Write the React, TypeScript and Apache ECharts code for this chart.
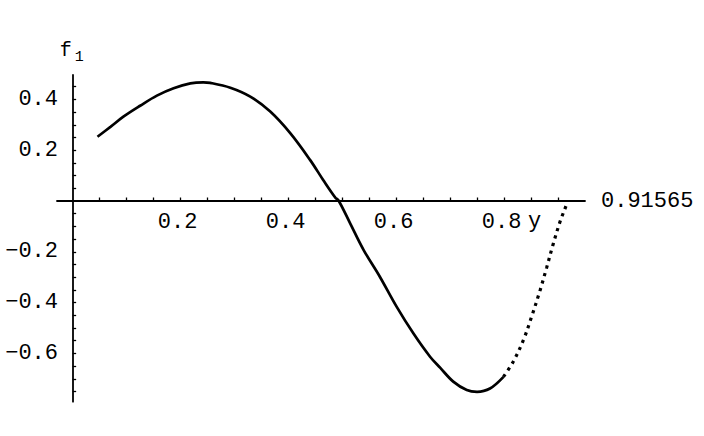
import React, { useEffect, useRef } from "react";
import * as echarts from "echarts";

// values
const X_VALUES = [
  0.046, 0.07, 0.094, 0.125, 0.156, 0.187, 0.218, 0.242, 0.255, 0.292, 0.329,
  0.366, 0.403, 0.44, 0.464, 0.486, 0.493, 0.514, 0.539, 0.569, 0.6, 0.631,
  0.662, 0.681, 0.705, 0.73, 0.749, 0.773, 0.798, 0.816, 0.835, 0.85, 0.866,
  0.878, 0.89, 0.903, 0.915, 0.91565,
];
const F_VALUES = [
  0.253, 0.292, 0.332, 0.375, 0.415, 0.444, 0.463, 0.467, 0.465, 0.446, 0.411,
  0.352, 0.267, 0.161, 0.083, 0.015, 0.0, -0.088, -0.193, -0.298, -0.416,
  -0.521, -0.613, -0.657, -0.711, -0.744, -0.751, -0.738, -0.692, -0.633,
  -0.547, -0.456, -0.35, -0.262, -0.17, -0.08, -0.012, 0.0,
];
const DOTTED_FROM = 0.798; // from here on the reference curve is drawn as dots

const X_TICKS = [0.05, 0.1, 0.15, 0.2, 0.25, 0.3, 0.35, 0.4, 0.45, 0.5, 0.55, 0.6, 0.65, 0.7, 0.75, 0.8, 0.85, 0.9];
const X_LABELS = [0.2, 0.4, 0.6, 0.8];
const Y_TICKS = [-0.75, -0.7, -0.65, -0.6, -0.55, -0.5, -0.45, -0.4, -0.35, -0.3, -0.25, -0.2, -0.15, -0.1, -0.05, 0.05, 0.1, 0.15, 0.2, 0.25, 0.3, 0.35, 0.4, 0.45];
const Y_LABELS = [-0.6, -0.4, -0.2, 0.2, 0.4];

const X_MIN = -0.029;
const X_MAX = 0.949;
const Y_MIN = -0.79;
const Y_MAX = 0.496;

const X_NAME = "0.91565";
const Y_NAME_MAIN = "f";
const Y_NAME_SUB = "1";
const X_LABEL_EXTRA = "y";

const MONO = '"Liberation Mono", "DejaVu Sans Mono", monospace';

function fmt(v: number): string {
  const s = (Math.round(v * 10) / 10).toFixed(1);
  return s.replace("-", "\u2212");
}

export default function App() {
  const ref = useRef<HTMLDivElement>(null);
  useEffect(() => {
    if (!ref.current) return;
    const chart = echarts.init(ref.current, undefined, { renderer: "svg" });
    const pts = X_VALUES.map((x, i) => [x, F_VALUES[i]]);
    const solid = pts.filter((p) => p[0] <= DOTTED_FROM);
    const dotted = pts.filter((p) => p[0] >= DOTTED_FROM);

    const lineStyle = { color: "#000", width: 1.8 };
    const tickStyle = { color: "#000", width: 1.3 };

    chart.setOption({
      animation: false,
      backgroundColor: "#fff",
      grid: { left: 57, right: 119, top: 75, bottom: 34.3, containLabel: false, outerBoundsMode: "none" },
      xAxis: {
        type: "value",
        min: X_MIN,
        max: X_MAX,
        splitLine: { show: false },
        axisLine: { show: true, onZero: true, lineStyle },
        name: X_NAME,
        nameLocation: "end",
        nameGap: 16,
        nameTextStyle: { fontFamily: MONO, fontSize: 22, color: "#000", align: "left", verticalAlign: "middle" },
        axisTick: { show: true, inside: true, length: 3.5, customValues: X_TICKS, lineStyle: tickStyle },
        axisLabel: {
          show: true,
          customValues: X_LABELS,
          formatter: (v: number) => fmt(v),
          fontFamily: MONO,
          fontSize: 22,
          color: "#000",
          // labels are laid out from the grid's bottom edge; bring them up to the zero line
          margin: -190,
          padding: [0, 6, 0, 0],
        },
      },
      yAxis: {
        type: "value",
        min: Y_MIN,
        max: Y_MAX,
        splitLine: { show: false },
        axisLine: { show: true, onZero: true, lineStyle },
        name: `{f|${Y_NAME_MAIN}}{s|${Y_NAME_SUB}}`,
        nameLocation: "end",
        nameGap: 10,
        nameTextStyle: {
          color: "#000",
          padding: [0, 2, 0, 0],
          rich: {
            f: { fontFamily: MONO, fontSize: 20, color: "#000", padding: [0, 0, 5, 0] },
            s: { fontFamily: MONO, fontSize: 15, color: "#000", padding: [0, 0, 0, 3], verticalAlign: "bottom" },
          },
        },
        axisTick: { show: true, inside: true, length: 3.5, customValues: Y_TICKS, lineStyle: tickStyle },
        axisLabel: {
          show: true,
          customValues: Y_LABELS,
          formatter: (v: number) => fmt(v),
          fontFamily: MONO,
          fontSize: 22,
          color: "#000",
          margin: -1,
        },
      },
      graphic: [
        {
          type: "text",
          left: 528,
          top: 210,
          style: { text: X_LABEL_EXTRA, font: `22px ${MONO}`, fill: "#000" },
        },
      ],
      series: [
        {
          type: "line",
          data: solid,
          showSymbol: false,
          smooth: 0.35,
          lineStyle: { color: "#000", width: 2.7 },
          clip: false,
        },
        {
          type: "line",
          data: dotted,
          showSymbol: false,
          smooth: 0.35,
          lineStyle: { color: "#000", width: 3.2, type: [3.2, 4.6], cap: "butt" },
          clip: false,
        },
      ],
    });
    return () => chart.dispose();
  }, []);
  return (
    <div
      ref={ref}
      style={{ position: "fixed", left: 0, top: 0, width: 704, height: 436, background: "#fff" }}
    />
  );
}
